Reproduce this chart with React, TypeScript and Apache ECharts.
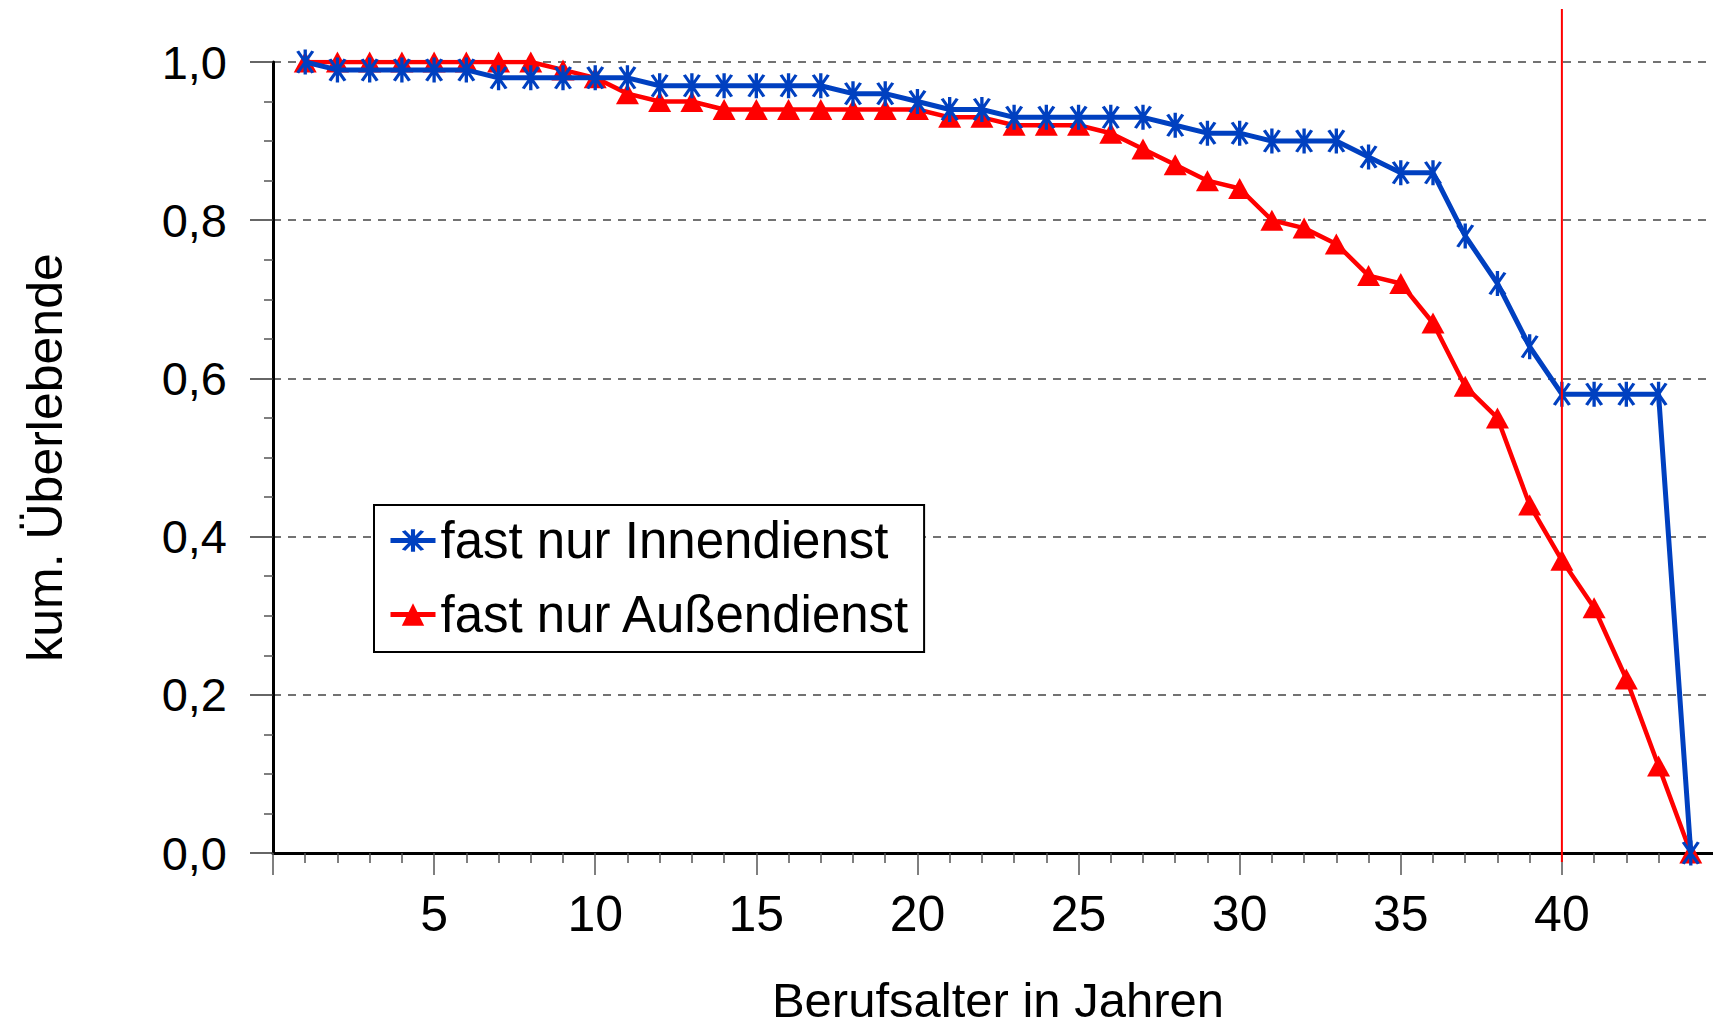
import React, { useEffect, useRef } from "react";
import * as echarts from "echarts";

// Berufsalter (years)
const years: number[] = Array.from({ length: 44 }, (_, i) => i + 1);

const innendienst: number[] = [
  1.0, 0.99, 0.99, 0.99, 0.99, 0.99, 0.98, 0.98, 0.98, 0.98,
  0.98, 0.97, 0.97, 0.97, 0.97, 0.97, 0.97, 0.96, 0.96, 0.95,
  0.94, 0.94, 0.93, 0.93, 0.93, 0.93, 0.93, 0.92, 0.91, 0.91,
  0.9, 0.9, 0.9, 0.88, 0.86, 0.86, 0.78, 0.72, 0.64, 0.58,
  0.58, 0.58, 0.58, 0.0,
];

const aussendienst: number[] = [
  1.0, 1.0, 1.0, 1.0, 1.0, 1.0, 1.0, 1.0, 0.99, 0.98,
  0.96, 0.95, 0.95, 0.94, 0.94, 0.94, 0.94, 0.94, 0.94, 0.94,
  0.93, 0.93, 0.92, 0.92, 0.92, 0.91, 0.89, 0.87, 0.85, 0.84,
  0.8, 0.79, 0.77, 0.73, 0.72, 0.67, 0.59, 0.55, 0.44, 0.37,
  0.31, 0.22, 0.11, 0.0,
];

const seriesNames = ["fast nur Innendienst", "fast nur Außendienst"];
const markerYear = 40;
const xTitle = "Berufsalter in Jahren";
const yTitle = "kum. Überlebende";

const FONT = "'Liberation Sans', Arial, Helvetica, sans-serif";
const BLUE = "#0040C0";
const RED = "#FF0000";

// asterisk: vertical spoke + two diagonal spokes (filled thin bars)
const asteriskPath =
  "path://M44.5 0L55.5 0L55.5 100L44.5 100Z" +
  "M29.76 4.0L79.76 90.6L70.24 96.0L20.24 9.4Z" +
  "M70.24 4.0L79.76 9.4L29.76 96.0L20.24 90.6Z";

export default function App() {
  const ref = useRef<HTMLDivElement>(null);

  useEffect(() => {
    if (!ref.current) return;
    const chart = echarts.init(ref.current, null, { renderer: "svg" });
    const option: any = {
      animation: false,
      backgroundColor: "#ffffff",
      grid: {
        left: 273,
        top: 62,
        right: -10,
        bottom: 175,
        containLabel: false,
        outerBoundsMode: "none",
      },
      legend: {
        left: 374,
        top: 505,
        orient: "vertical",
        borderColor: "#000",
        borderWidth: 2,
        borderRadius: 0,
        backgroundColor: "#fff",
        padding: [10, 13, 12, 14],
        itemGap: 23,
        itemWidth: 45,
        itemHeight: 28,
        lineStyle: { width: 5 },
        textStyle: { fontSize: 51, color: "#000", fontFamily: FONT },
        data: seriesNames,
      },
      xAxis: {
        type: "value",
        min: 0,
        max: 45,
        interval: 5,
        name: xTitle,
        nameLocation: "middle",
        nameGap: 126,
        nameTextStyle: { fontSize: 49, lineHeight: 42, color: "#000", fontFamily: FONT },
        axisLine: { show: true, onZero: false, lineStyle: { color: "#000", width: 3 } },
        axisTick: { show: true, length: 22, lineStyle: { color: "#555", width: 1.5 } },
        minorTick: { show: true, splitNumber: 5, length: 10, lineStyle: { color: "#555", width: 1.5 } },
        splitLine: { show: false },
        axisLabel: {
          fontSize: 50,
          color: "#000",
          fontFamily: FONT,
          margin: 36,
          formatter: (v: number) => (v > 0 && v % 5 === 0 && v <= 40 ? String(v) : ""),
        },
      },
      yAxis: {
        type: "value",
        min: 0,
        max: 1,
        interval: 0.2,
        name: yTitle,
        nameLocation: "middle",
        nameRotate: 90,
        nameGap: 203,
        nameTextStyle: { fontSize: 50, color: "#000", fontFamily: FONT },
        axisLine: { show: true, lineStyle: { color: "#000", width: 3 } },
        axisTick: { show: true, length: 23, lineStyle: { color: "#333", width: 1.5 } },
        minorTick: { show: true, splitNumber: 4, length: 9, lineStyle: { color: "#555", width: 1.5 } },
        splitLine: { show: true, lineStyle: { color: "#444", width: 1.5, type: [8, 7] } },
        axisLabel: {
          fontSize: 47,
          color: "#000",
          fontFamily: FONT,
          margin: 46,
          formatter: (v: number) => v.toFixed(1).replace(".", ","),
        },
      },
      series: [
        {
          name: seriesNames[0],
          type: "line",
          data: years.map((x, i) => [x, innendienst[i]]),
          symbol: asteriskPath,
          symbolSize: [18, 25],
          symbolKeepAspect: false,
          showAllSymbol: true,
          lineStyle: { color: BLUE, width: 5 },
          itemStyle: { color: BLUE },
          z: 3,
        },
        {
          name: seriesNames[1],
          type: "line",
          data: years.map((x, i) => [x, aussendienst[i]]),
          symbol: "triangle",
          symbolSize: [23, 21],
          showAllSymbol: true,
          lineStyle: { color: RED, width: 4.5 },
          itemStyle: { color: RED },
          z: 2,
        },
      ],
    };
    chart.setOption(option);

    const px = chart.convertToPixel({ xAxisIndex: 0 }, markerYear) as number;
    const y0 = chart.convertToPixel({ yAxisIndex: 0 }, 0) as number;
    chart.setOption({
      graphic: [
        {
          type: "line",
          z: 10,
          shape: { x1: px, y1: 9, x2: px, y2: y0 + 9 },
          style: { stroke: RED, lineWidth: 2 },
        },
      ],
    });

    return () => chart.dispose();
  }, []);

  return (
    <div
      ref={ref}
      style={{ position: "absolute", left: 0, top: 0, width: 1713, height: 1028 }}
    />
  );
}
